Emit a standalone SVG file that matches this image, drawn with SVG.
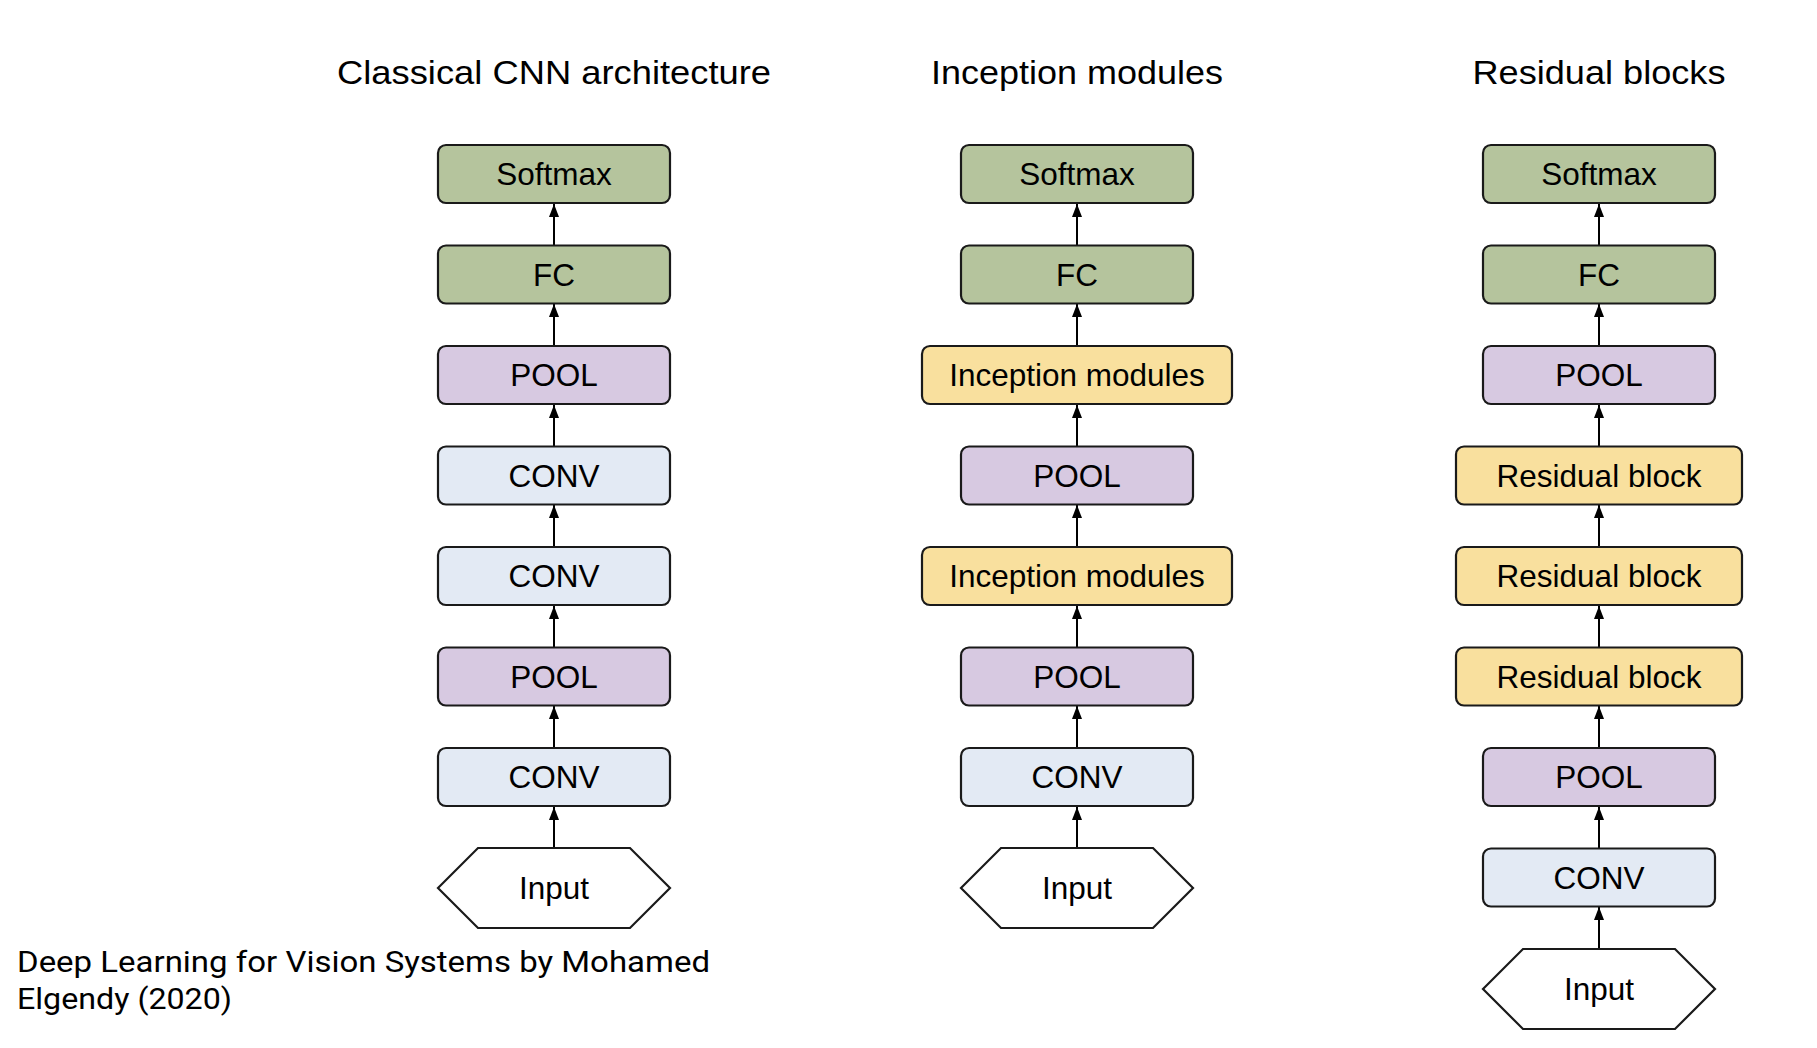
<svg xmlns="http://www.w3.org/2000/svg" width="1817" height="1048" viewBox="0 0 1817 1048">
<defs>
<marker id="ah" viewBox="0 0 13 10" refX="13" refY="5" markerWidth="13" markerHeight="10" markerUnits="userSpaceOnUse" orient="auto">
<path d="M0,0 L13,5 L0,10 Z" fill="#000"/>
</marker>
<style>
.t{font-family:"Liberation Sans",Arial,sans-serif;font-size:33px;fill:#000;text-anchor:middle}
.b{font-family:"Liberation Sans",Arial,sans-serif;font-size:31.5px;fill:#000;text-anchor:middle}
.f{font-family:Roboto,"Open Sans",sans-serif;font-size:30px;fill:#000}
.box{stroke:#1a1a1a;stroke-width:2.2}
.g{fill:#b5c49d}.p{fill:#d7c9e1}.l{fill:#e3eaf4}.y{fill:#f9e09e}
.hex{fill:#fff;stroke:#1a1a1a;stroke-width:2.2}
.c{stroke:#000;stroke-width:2;fill:none}
</style>
</defs>
<rect width="1817" height="1048" fill="#fff"/>
<g id="titles">
<text class="t" x="554" y="84" textLength="434" lengthAdjust="spacingAndGlyphs">Classical CNN architecture</text>
<text class="t" x="1077" y="84" textLength="292" lengthAdjust="spacingAndGlyphs">Inception modules</text>
<text class="t" x="1599" y="84" textLength="253" lengthAdjust="spacingAndGlyphs">Residual blocks</text>
</g>
<g id="connectors">
<line class="c" x1="554" y1="245" x2="554" y2="204" marker-end="url(#ah)"/>
<line class="c" x1="554" y1="346" x2="554" y2="304" marker-end="url(#ah)"/>
<line class="c" x1="554" y1="446" x2="554" y2="405" marker-end="url(#ah)"/>
<line class="c" x1="554" y1="547" x2="554" y2="505" marker-end="url(#ah)"/>
<line class="c" x1="554" y1="647" x2="554" y2="606" marker-end="url(#ah)"/>
<line class="c" x1="554" y1="748" x2="554" y2="706" marker-end="url(#ah)"/>
<line class="c" x1="554" y1="848" x2="554" y2="807" marker-end="url(#ah)"/>
<line class="c" x1="1077" y1="245" x2="1077" y2="204" marker-end="url(#ah)"/>
<line class="c" x1="1077" y1="346" x2="1077" y2="304" marker-end="url(#ah)"/>
<line class="c" x1="1077" y1="446" x2="1077" y2="405" marker-end="url(#ah)"/>
<line class="c" x1="1077" y1="547" x2="1077" y2="505" marker-end="url(#ah)"/>
<line class="c" x1="1077" y1="647" x2="1077" y2="606" marker-end="url(#ah)"/>
<line class="c" x1="1077" y1="748" x2="1077" y2="706" marker-end="url(#ah)"/>
<line class="c" x1="1077" y1="848" x2="1077" y2="807" marker-end="url(#ah)"/>
<line class="c" x1="1599" y1="245" x2="1599" y2="204" marker-end="url(#ah)"/>
<line class="c" x1="1599" y1="346" x2="1599" y2="304" marker-end="url(#ah)"/>
<line class="c" x1="1599" y1="446" x2="1599" y2="405" marker-end="url(#ah)"/>
<line class="c" x1="1599" y1="547" x2="1599" y2="505" marker-end="url(#ah)"/>
<line class="c" x1="1599" y1="647" x2="1599" y2="606" marker-end="url(#ah)"/>
<line class="c" x1="1599" y1="748" x2="1599" y2="706" marker-end="url(#ah)"/>
<line class="c" x1="1599" y1="848" x2="1599" y2="807" marker-end="url(#ah)"/>
<line class="c" x1="1599" y1="949" x2="1599" y2="907" marker-end="url(#ah)"/>
</g>
<!-- Column 1 -->
<g id="c1-softmax"><rect class="box g" x="438" y="145" width="232" height="58" rx="8"/><text class="b" x="554" y="185">Softmax</text></g>
<g id="c1-fc"><rect class="box g" x="438" y="245.5" width="232" height="58" rx="8"/><text class="b" x="554" y="285.5">FC</text></g>
<g id="c1-pool2"><rect class="box p" x="438" y="346" width="232" height="58" rx="8"/><text class="b" x="554" y="386">POOL</text></g>
<g id="c1-conv3"><rect class="box l" x="438" y="446.5" width="232" height="58" rx="8"/><text class="b" x="554" y="486.5">CONV</text></g>
<g id="c1-conv2"><rect class="box l" x="438" y="547" width="232" height="58" rx="8"/><text class="b" x="554" y="587">CONV</text></g>
<g id="c1-pool1"><rect class="box p" x="438" y="647.5" width="232" height="58" rx="8"/><text class="b" x="554" y="687.5">POOL</text></g>
<g id="c1-conv1"><rect class="box l" x="438" y="748" width="232" height="58" rx="8"/><text class="b" x="554" y="788">CONV</text></g>
<g id="c1-input"><polygon class="hex" points="438,888 478,848 630,848 670,888 630,928 478,928"/><text class="b" x="554" y="899">Input</text></g>
<!-- Column 2 -->
<g id="c2-softmax"><rect class="box g" x="961" y="145" width="232" height="58" rx="8"/><text class="b" x="1077" y="185">Softmax</text></g>
<g id="c2-fc"><rect class="box g" x="961" y="245.5" width="232" height="58" rx="8"/><text class="b" x="1077" y="285.5">FC</text></g>
<g id="c2-incep2"><rect class="box y" x="922" y="346" width="310" height="58" rx="8"/><text class="b" x="1077" y="386">Inception modules</text></g>
<g id="c2-pool2"><rect class="box p" x="961" y="446.5" width="232" height="58" rx="8"/><text class="b" x="1077" y="486.5">POOL</text></g>
<g id="c2-incep1"><rect class="box y" x="922" y="547" width="310" height="58" rx="8"/><text class="b" x="1077" y="587">Inception modules</text></g>
<g id="c2-pool1"><rect class="box p" x="961" y="647.5" width="232" height="58" rx="8"/><text class="b" x="1077" y="687.5">POOL</text></g>
<g id="c2-conv"><rect class="box l" x="961" y="748" width="232" height="58" rx="8"/><text class="b" x="1077" y="788">CONV</text></g>
<g id="c2-input"><polygon class="hex" points="961,888 1001,848 1153,848 1193,888 1153,928 1001,928"/><text class="b" x="1077" y="899">Input</text></g>
<!-- Column 3 -->
<g id="c3-softmax"><rect class="box g" x="1483" y="145" width="232" height="58" rx="8"/><text class="b" x="1599" y="185">Softmax</text></g>
<g id="c3-fc"><rect class="box g" x="1483" y="245.5" width="232" height="58" rx="8"/><text class="b" x="1599" y="285.5">FC</text></g>
<g id="c3-pool2"><rect class="box p" x="1483" y="346" width="232" height="58" rx="8"/><text class="b" x="1599" y="386">POOL</text></g>
<g id="c3-res3"><rect class="box y" x="1456" y="446.5" width="286" height="58" rx="8"/><text class="b" x="1599" y="486.5">Residual block</text></g>
<g id="c3-res2"><rect class="box y" x="1456" y="547" width="286" height="58" rx="8"/><text class="b" x="1599" y="587">Residual block</text></g>
<g id="c3-res1"><rect class="box y" x="1456" y="647.5" width="286" height="58" rx="8"/><text class="b" x="1599" y="687.5">Residual block</text></g>
<g id="c3-pool1"><rect class="box p" x="1483" y="748" width="232" height="58" rx="8"/><text class="b" x="1599" y="788">POOL</text></g>
<g id="c3-conv"><rect class="box l" x="1483" y="848.5" width="232" height="58" rx="8"/><text class="b" x="1599" y="888.5">CONV</text></g>
<g id="c3-input"><polygon class="hex" points="1483,989 1523,949 1675,949 1715,989 1675,1029 1523,1029"/><text class="b" x="1599" y="1000">Input</text></g>
<g id="credit">
<text class="f" x="17" y="972" textLength="693" lengthAdjust="spacingAndGlyphs">Deep Learning for Vision Systems by Mohamed</text>
<text class="f" x="17" y="1009" textLength="215" lengthAdjust="spacingAndGlyphs">Elgendy (2020)</text>
</g>
</svg>
